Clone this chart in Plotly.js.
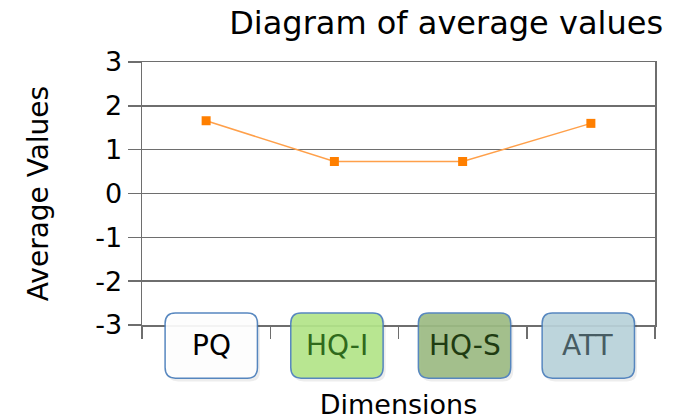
<!DOCTYPE html>
<html>
<head>
<meta charset="utf-8">
<script src="https://cdn.plot.ly/plotly-3.0.1.min.js"></script>
<style>html,body{margin:0;padding:0;background:#fff;}#chart{width:677px;height:420px;}</style>
</head>
<body>
<div id="chart"></div>
<script>
const categories = ['PQ', 'HQ-I', 'HQ-S', 'ATT'];
const averageValues = [1.66, 0.73, 0.73, 1.60];
const yTickValues = [-3, -2, -1, 0, 1, 2, 3];
const boxFill = ['#ffffff', '#b4e68a', '#9dbc84', '#bad3db'];
const boxText = ['#000000', '#2f6a1c', '#1f3c12', '#475c63'];
const boxShift = [0.04, 0.02, 0.015, -0.02];

const FONT = 'DejaVu Sans, Liberation Sans, Arial, sans-serif';

const trace = {
  x: categories,
  y: averageValues,
  type: 'scatter',
  mode: 'lines+markers',
  line: {color: '#ffa04a', width: 1.5},
  marker: {symbol: 'square', size: 9, color: '#ff7f00'},
  hoverinfo: 'skip'
};

function roundRect(cx, hw, y0, y1, rx, ry) {
  const x0 = cx - hw, x1 = cx + hw;
  return `M ${x0 + rx} ${y1} L ${x1 - rx} ${y1} Q ${x1} ${y1} ${x1} ${y1 - ry} ` +
         `L ${x1} ${y0 + ry} Q ${x1} ${y0} ${x1 - rx} ${y0} L ${x0 + rx} ${y0} ` +
         `Q ${x0} ${y0} ${x0} ${y0 + ry} L ${x0} ${y1 - ry} Q ${x0} ${y1} ${x0 + rx} ${y1} Z`;
}

const shapes = [];
const annotations = [];
categories.forEach((c, i) => {
  const cx = i + boxShift[i];
  shapes.push({
    type: 'path', xref: 'x', yref: 'paper', layer: 'above',
    path: roundRect(cx + 0.02, 0.36, -0.215, 0.035, 0.08, 0.04),
    fillcolor: 'rgba(0,0,0,0.07)', line: {width: 0}
  });
  shapes.push({
    type: 'path', xref: 'x', yref: 'paper', layer: 'above',
    path: roundRect(cx, 0.36, -0.202, 0.046, 0.08, 0.04),
    fillcolor: boxFill[i], opacity: 0.92,
    line: {color: '#4a7ebb', width: 1.5}
  });
  annotations.push({
    x: cx, xref: 'x', y: -0.078, yref: 'paper', yanchor: 'middle',
    text: c, showarrow: false,
    font: {family: FONT, size: 28, color: boxText[i]}
  });
});

const layout = {
  width: 677, height: 420,
  margin: {l: 142, r: 22, t: 62, b: 95},
  paper_bgcolor: '#ffffff', plot_bgcolor: '#ffffff',
  showlegend: false,
  title: {
    text: 'Diagram of average values',
    x: 0.659, xanchor: 'center', y: 0.945, yanchor: 'middle',
    font: {family: FONT, size: 32, color: '#000'}
  },
  xaxis: {
    type: 'category',
    tickson: 'boundaries',
    ticks: 'outside', ticklen: 12, tickcolor: '#6e6e6e', tickwidth: 1.5,
    showticklabels: false,
    showgrid: false,
    showline: true, linecolor: '#6e6e6e', linewidth: 1.5, mirror: true,
    zeroline: false,
    range: [-0.5, 3.5],
    title: {text: 'Dimensions', font: {family: FONT, size: 27, color: '#000'}, standoff: 69}
  },
  yaxis: {
    range: [-3, 3],
    tickvals: yTickValues,
    ticktext: yTickValues.map(String),
    ticks: 'outside', ticklen: 13, tickcolor: '#6e6e6e', tickwidth: 1.5,
    tickfont: {family: FONT, size: 27, color: '#000'},
    showgrid: true, gridcolor: '#6e6e6e', gridwidth: 1.5,
    showline: true, linecolor: '#6e6e6e', linewidth: 1.5, mirror: true,
    zeroline: false,
    title: {text: 'Average Values', font: {family: FONT, size: 28, color: '#000'}, standoff: 38}
  },
  shapes: shapes,
  annotations: annotations
};

Plotly.newPlot('chart', [trace], layout, {displayModeBar: false, staticPlot: true});
</script>
</body>
</html>
